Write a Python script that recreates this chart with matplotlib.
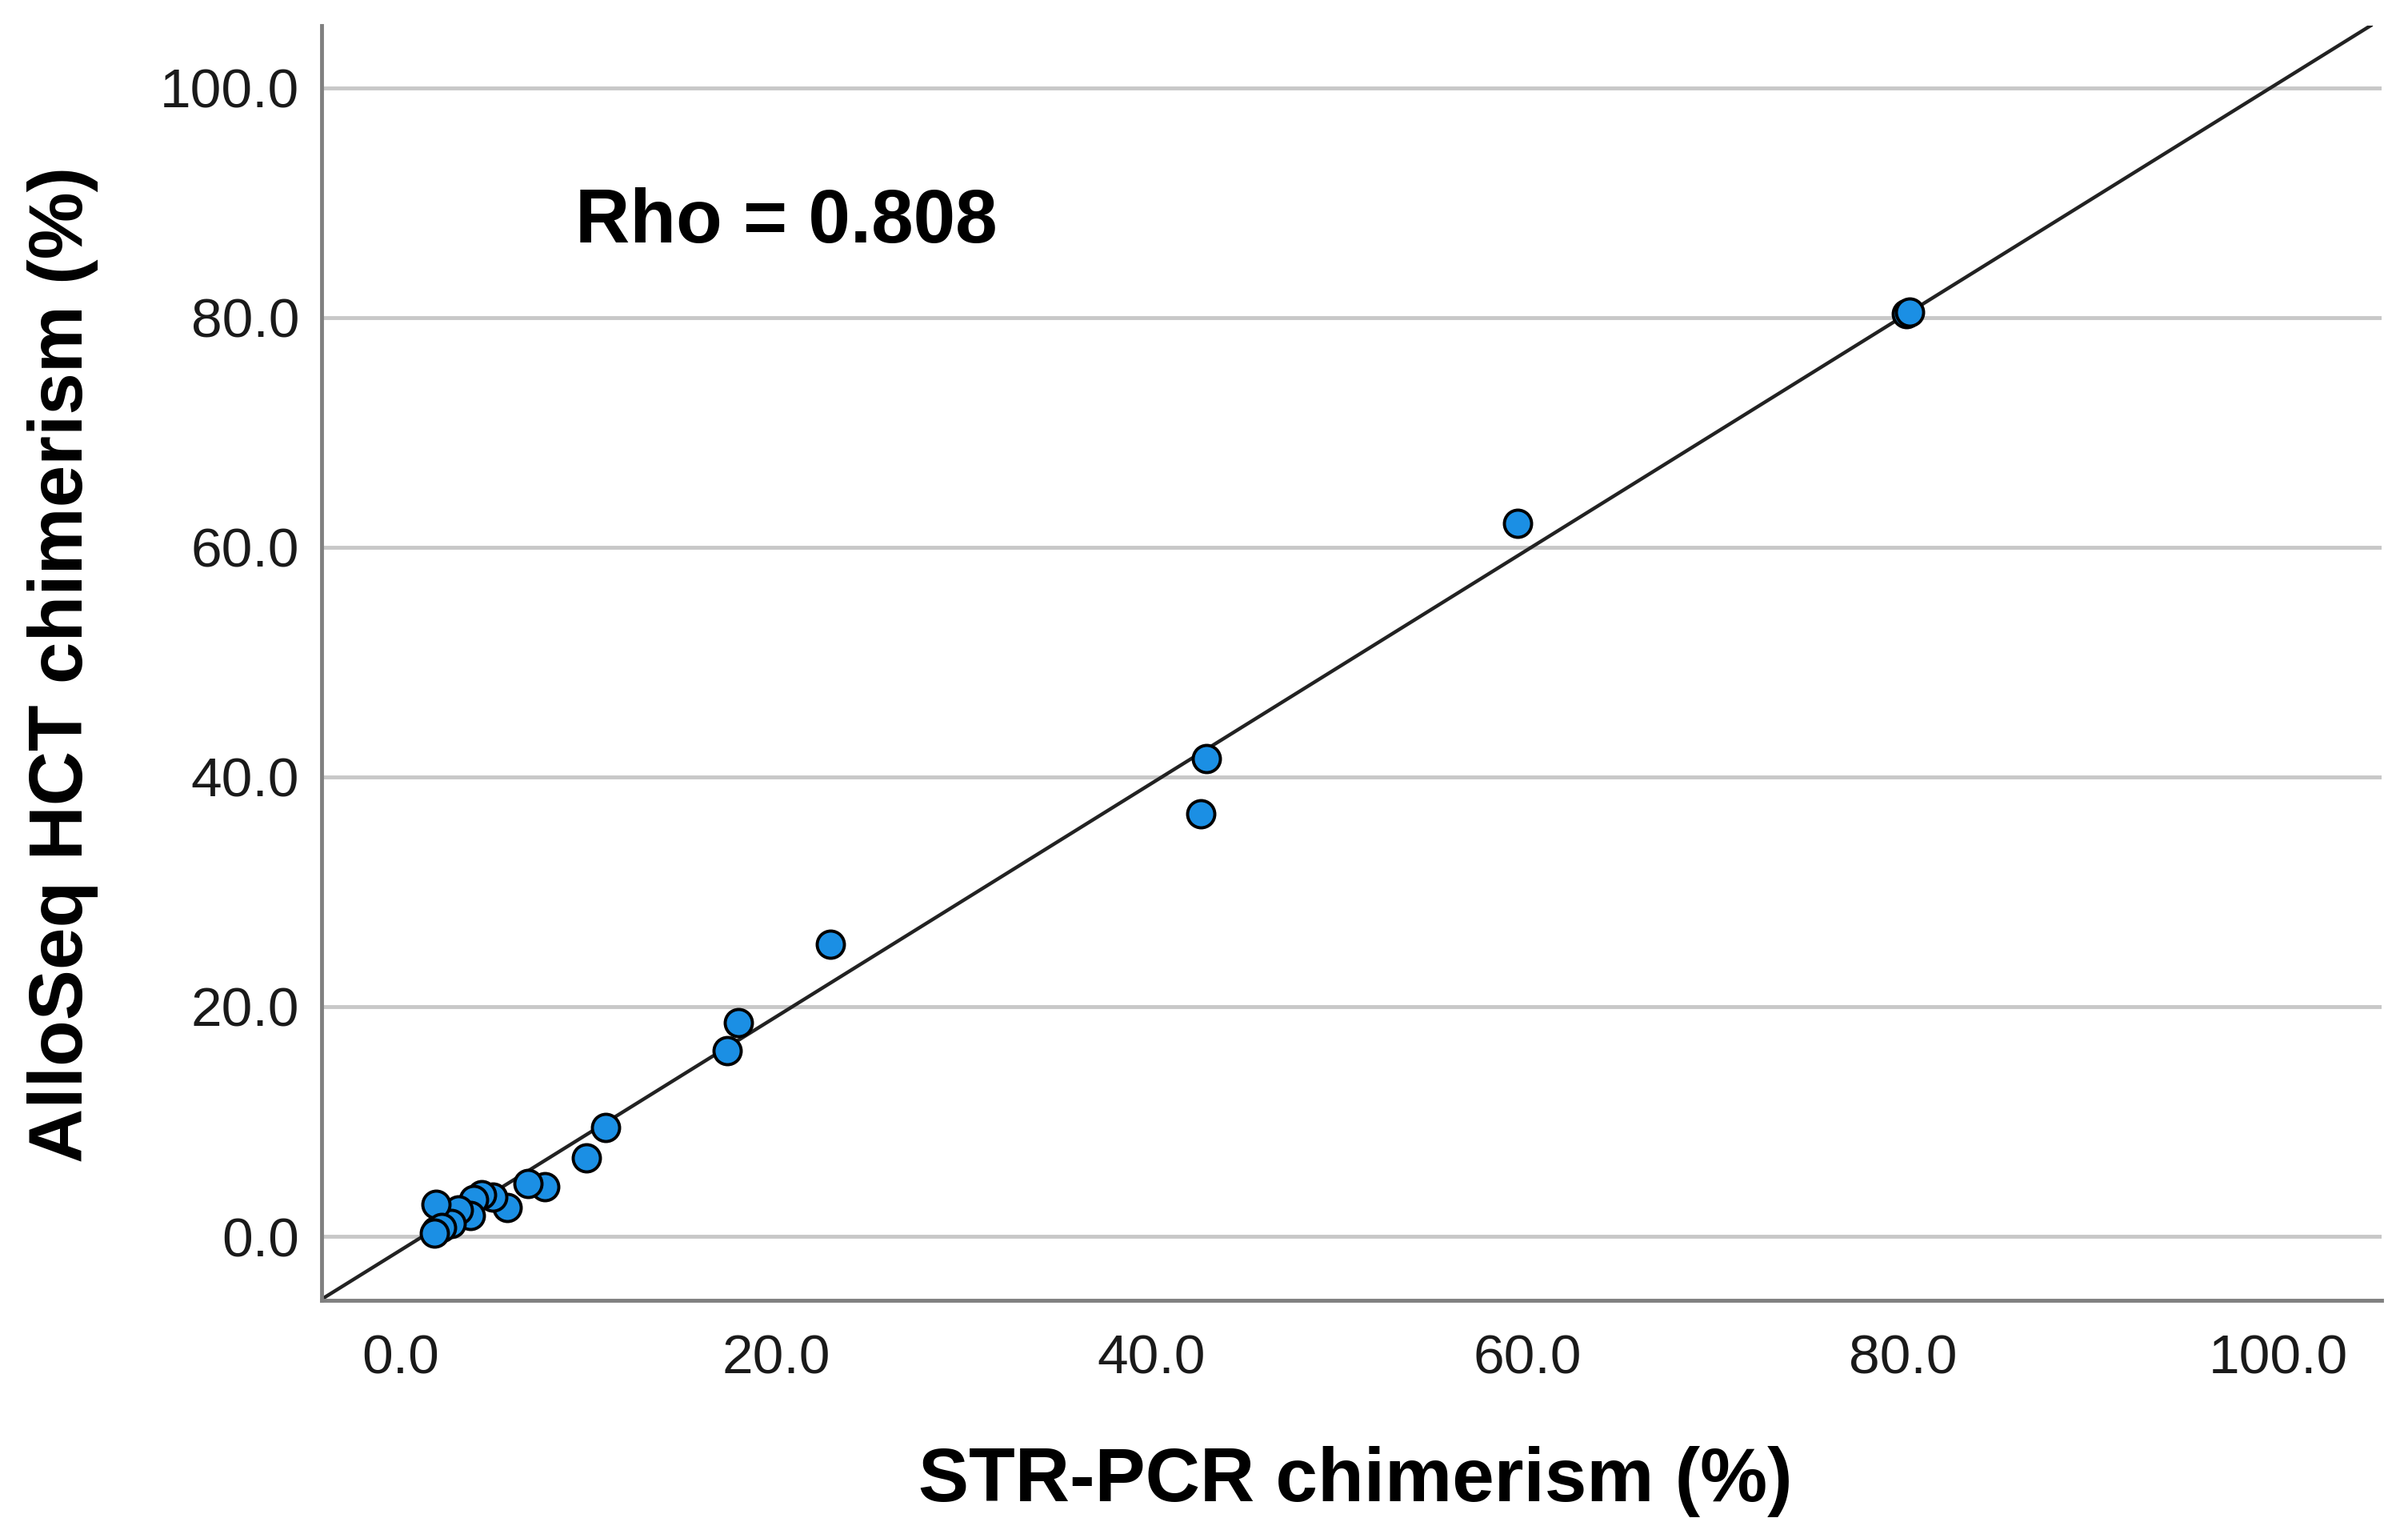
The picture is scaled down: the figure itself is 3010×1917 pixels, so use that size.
import matplotlib
matplotlib.use("Agg")
import matplotlib.pyplot as plt

plt.rcParams['font.family'] = ['Liberation Sans', 'DejaVu Sans']

# STR-PCR chimerism (%) vs AlloSeq HCT chimerism (%)
str_pcr = [80.2, 80.35, 59.5, 42.9, 42.6, 22.9, 18.0, 17.4, 10.9, 9.9,
           7.7, 6.8, 5.7, 4.9, 4.3, 3.9, 3.7, 3.1, 2.7, 1.9, 1.9, 2.2, 1.8]
alloseq = [80.3, 80.45, 62.1, 41.6, 36.8, 25.4, 18.6, 16.2, 9.5, 6.8,
           4.3, 4.6, 2.5, 3.4, 3.6, 3.2, 1.8, 2.3, 1.1, 2.8, 0.5, 0.8, 0.3]

# fit line
fit_intercept = -1.2
fit_slope = 1.016

ticks = [0, 20, 40, 60, 80, 100]
tick_labels = ["0.0", "20.0", "40.0", "60.0", "80.0", "100.0"]
rho_text = "Rho = 0.808"

fig = plt.figure(figsize=(30.10, 19.17), dpi=100)
ax = fig.add_axes([0.1336, 0.1523, 0.8554, 0.831])

ax.set_xlim(-4.2, 105.5)
ax.set_ylim(-5.57, 105.4)

ax.yaxis.grid(True, color='#c8c8c8', linewidth=3.5, zorder=0)
ax.set_axisbelow(True)

ax.axline((0, fit_intercept), slope=fit_slope, color='#222222', linewidth=3.2, zorder=2)
ax.scatter(str_pcr, alloseq, s=600, color='#1b8fe4', edgecolors='black', linewidths=2.8, zorder=3)

ax.set_xticks(ticks)
ax.set_xticklabels(tick_labels)
ax.set_yticks(ticks)
ax.set_yticklabels(tick_labels)
ax.tick_params(axis='both', length=0, labelsize=50, colors='#1a1a1a')
ax.tick_params(axis='x', pad=30)
ax.tick_params(axis='y', pad=20)

for side in ['top', 'right']:
    ax.spines[side].set_visible(False)
for side in ['left', 'bottom']:
    ax.spines[side].set_color('#808080')
    ax.spines[side].set_linewidth(3.5)

ax.text(9.3, 86.5, rho_text, fontsize=68, fontweight='bold', ha='left', va='baseline')

fig.text(0.563, 0.034, "STR-PCR chimerism (%)", fontsize=68, fontweight='bold',
         ha='center', va='center')
fig.text(0.026, 0.567, "AlloSeq HCT chimerism (%)", fontsize=68, fontweight='bold',
         ha='center', va='center', rotation=90)

fig.savefig("out.png", dpi=100)
